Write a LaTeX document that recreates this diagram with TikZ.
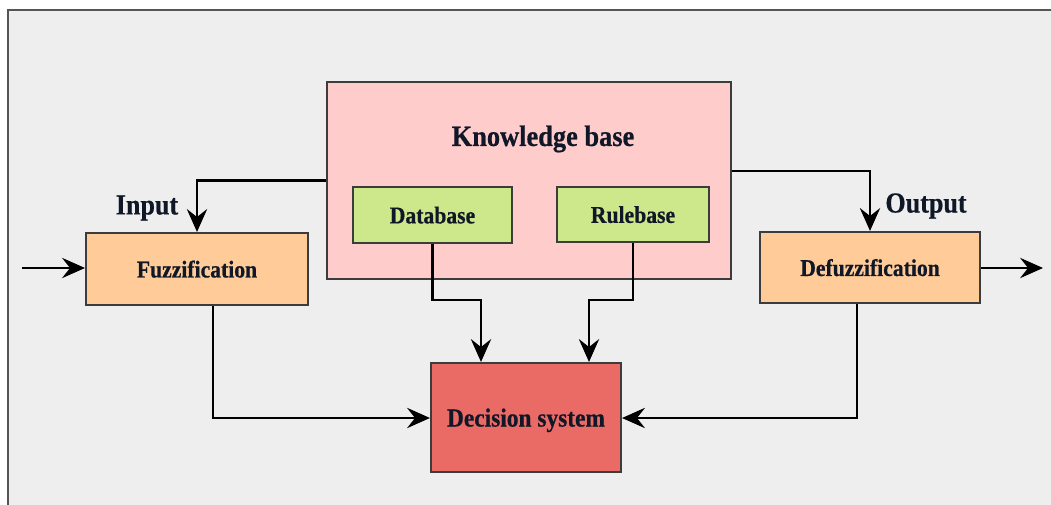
\documentclass[tikz,border=0pt]{standalone}
\usepackage{fontspec}
\setmainfont{Liberation Serif}
\newfontfamily\condfont[FakeStretch=0.9,FakeBold=0.6]{Liberation Serif}
\usetikzlibrary{positioning,calc,arrows.meta}
\definecolor{bggray}{HTML}{EEEEEE}
\definecolor{framegray}{HTML}{555555}
\definecolor{edgegray}{HTML}{3C3C3C}
\definecolor{kbpink}{HTML}{FFCCCC}
\definecolor{dbgreen}{HTML}{CDE88A}
\definecolor{fzorange}{HTML}{FFCC99}
\definecolor{decred}{HTML}{EA6B66}
\definecolor{txtnavy}{HTML}{101828}

\begin{document}
\begin{tikzpicture}[
        x=0.02cm, y=-0.02cm,
        box/.style={rectangle, draw=edgegray, line width=1.2pt, inner sep=0pt, text depth=0pt, text=txtnavy, font=\condfont\bfseries\fontsize{13.7}{16}\selectfont, align=center},
        lbl/.style={inner sep=0pt, text=txtnavy, font=\condfont\bfseries\fontsize{16.5}{19}\selectfont},
        arrow/.style={-{Stealth[length=13pt, width=11.5pt, inset=4.5pt]}, line width=1.6pt}
    ]
        % Background and frame
        \useasboundingbox (0,0) rectangle (1051,504);
        \clip (0,0) rectangle (1051,504);
        \fill[white] (0,0) rectangle (1051,504);
        \draw[framegray, line width=1.2pt, fill=bggray] (8,10) rectangle (1070,530);

        % Nodes
        \node[box, fill=kbpink, minimum width=8.08cm, minimum height=3.94cm] (kb) at (529,180.5) {};
        \node[lbl, font=\condfont\bfseries\fontsize{16.7}{19}\selectfont] (kbtitle) at (543,139) {Knowledge base};
        \node[box, fill=dbgreen, minimum width=3.18cm, minimum height=1.12cm] (db) at (432.5,215) {Database};
        \node[box, fill=dbgreen, minimum width=3.04cm, minimum height=1.10cm] (rb) at (633,214.5) {Rulebase};
        \node[box, fill=fzorange, minimum width=4.44cm, minimum height=1.44cm] (fuzz) at (197,269) {Fuzzification};
        \node[box, fill=fzorange, minimum width=4.40cm, minimum height=1.42cm] (defuzz) at (870,267.5) {Defuzzification};
        \node[box, fill=decred, minimum width=3.80cm, minimum height=2.18cm, font=\condfont\bfseries\fontsize{14.8}{17}\selectfont] (dec) at (526,417.5) {Decision system};
        \node[lbl] (lblin) at (147,208) {Input};
        \node[lbl] (lblout) at (926,206) {Output};
        \coordinate (instart) at (22,268);
        \coordinate (outend) at (1043,268);

        % Arrows
        \draw[arrow] (instart) -- (fuzz.west |- instart);
        \draw[arrow] (defuzz.east |- outend) -- (outend);
        \draw[arrow] (kb.west) -| (fuzz.north);
        \draw[arrow] (kb.east |- 0,171) -| (defuzz.north);
        \draw[arrow] (db.south) |- (481,300) -- (dec.north -| 481,0);
        \draw[arrow] (rb.south) |- (589,300) -- (dec.north -| 589,0);
        \draw[arrow] (fuzz.south -| 213,0) |- (dec.west |- 0,418);
        \draw[arrow] (defuzz.south -| 857,0) |- (dec.east |- 0,418);
    \end{tikzpicture}
\end{document}
